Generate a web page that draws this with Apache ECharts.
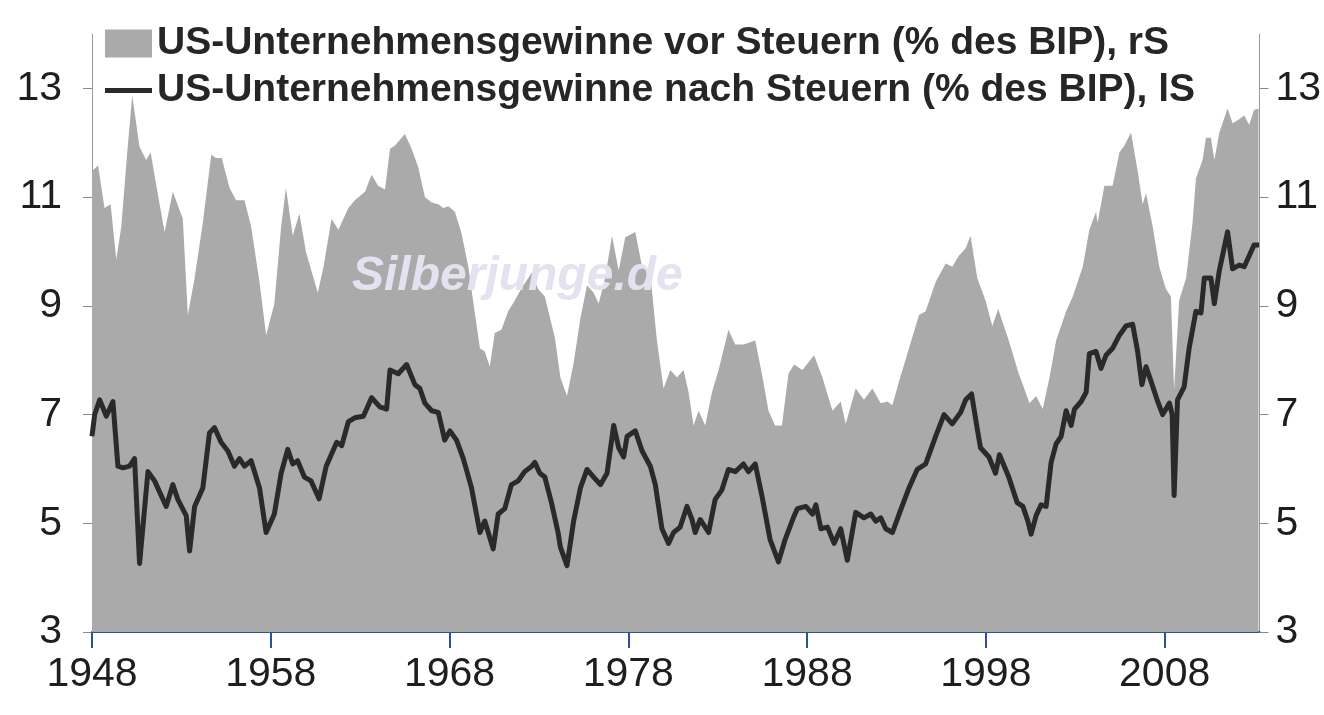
<!DOCTYPE html>
<html>
<head>
<meta charset="utf-8">
<script src="https://cdn.jsdelivr.net/npm/echarts@6/dist/echarts.min.js"></script>
<style>
  html, body { margin: 0; padding: 0; background: #fff; }
  #chart { width: 1324px; height: 715px; }
</style>
</head>
<body>
<div id="chart"></div>
<script>
// Vorsteuer-Gewinne (% des BIP), rechte Skala
const preYears = [1948.0,1948.34,1948.7,1949.04,1949.36,1949.64,1949.97,1950.25,1950.66,1951.03,1951.28,1951.6,1952.06,1952.52,1953.08,1953.36,1953.74,1954.2,1954.67,1954.94,1955.26,1955.69,1956.06,1956.53,1956.9,1957.37,1957.74,1958.2,1958.58,1958.85,1959.23,1959.6,1959.97,1960.63,1960.95,1961.4,1961.78,1962.34,1962.7,1963.27,1963.64,1964.0,1964.39,1964.67,1964.95,1965.5,1965.88,1966.25,1966.62,1967.0,1967.37,1967.65,1967.93,1968.3,1968.67,1969.05,1969.4,1969.7,1969.97,1970.25,1970.53,1970.9,1971.28,1971.65,1972.0,1972.6,1972.95,1973.33,1973.9,1974.2,1974.57,1974.94,1975.32,1975.69,1976.06,1976.34,1976.7,1977.09,1977.46,1977.83,1978.39,1978.77,1979.23,1979.6,1979.97,1980.35,1980.72,1981.09,1981.37,1981.65,1981.93,1982.3,1982.68,1983.05,1983.6,1983.98,1984.44,1985.1,1985.47,1985.84,1986.21,1986.59,1986.96,1987.27,1987.74,1988.39,1988.86,1989.42,1989.88,1990.16,1990.72,1991.18,1991.65,1992.12,1992.49,1992.77,1993.14,1993.7,1994.26,1994.63,1995.19,1995.75,1996.12,1996.49,1996.87,1997.14,1997.52,1997.98,1998.36,1998.69,1999.28,1999.84,2000.07,2000.44,2000.81,2001.18,2001.56,2001.93,2002.49,2002.86,2003.42,2003.79,2004.16,2004.25,2004.63,2005.09,2005.47,2005.75,2006.12,2006.49,2006.77,2006.96,2007.33,2007.7,2008.07,2008.35,2008.53,2008.81,2009.2,2009.56,2009.75,2010.12,2010.31,2010.59,2010.78,2011.06,2011.52,2011.8,2012.17,2012.45,2012.73,2013.0,2013.25];
const preValues = [11.48,11.58,10.80,10.87,9.85,10.46,11.82,12.87,11.92,11.68,11.82,11.21,10.36,11.10,10.60,8.83,9.51,10.53,11.78,11.72,11.72,11.17,10.94,10.94,10.46,9.44,8.46,9.04,10.46,11.17,10.29,10.70,9.99,9.24,9.72,10.60,10.40,10.80,10.94,11.10,11.41,11.21,11.14,11.89,11.95,12.16,11.89,11.55,11.00,10.90,10.87,10.80,10.83,10.73,10.33,9.72,8.90,8.22,8.16,7.88,8.50,8.56,8.90,9.10,9.31,9.61,9.31,9.17,8.40,7.68,7.34,7.95,8.77,9.38,9.24,9.04,9.51,10.29,9.65,10.26,10.36,9.72,9.58,8.36,7.48,7.82,7.68,7.82,7.41,6.80,7.07,6.80,7.41,7.82,8.56,8.29,8.29,8.36,7.75,7.07,6.80,6.80,7.75,7.92,7.82,8.09,7.68,7.07,7.24,6.83,7.48,7.27,7.48,7.21,7.24,7.17,7.61,8.22,8.83,8.90,9.44,9.78,9.72,9.92,10.06,10.29,9.51,9.10,8.63,8.94,8.36,7.75,7.55,7.21,7.34,7.10,7.68,8.36,8.90,9.17,9.72,10.40,10.73,10.53,11.21,11.21,11.82,11.95,12.19,11.48,10.87,11.07,10.46,9.72,9.31,9.17,7.45,9.10,9.51,10.53,11.34,11.68,12.09,12.09,11.68,12.19,12.63,12.36,12.43,12.50,12.33,12.60,12.63];

// Nachsteuer-Gewinne (% des BIP), linke Skala
const postYears = [1948.0,1948.15,1948.43,1948.8,1949.17,1949.45,1949.73,1950.1,1950.38,1950.66,1951.13,1951.5,1952.15,1952.52,1952.8,1953.27,1953.46,1953.74,1954.2,1954.57,1954.85,1955.22,1955.6,1955.97,1956.25,1956.53,1956.9,1957.37,1957.74,1958.2,1958.58,1958.95,1959.23,1959.5,1959.88,1960.25,1960.7,1961.1,1961.69,1961.97,1962.34,1962.7,1963.18,1963.64,1964.1,1964.48,1964.67,1965.13,1965.6,1966.06,1966.34,1966.62,1967.0,1967.37,1967.73,1968.02,1968.39,1968.77,1969.23,1969.7,1969.97,1970.44,1970.72,1971.09,1971.46,1971.84,1972.2,1972.6,1972.77,1973.05,1973.33,1973.7,1974.07,1974.2,1974.57,1974.94,1975.32,1975.69,1976.06,1976.44,1976.81,1977.18,1977.46,1977.74,1977.93,1978.39,1978.77,1979.23,1979.51,1979.88,1980.25,1980.53,1980.9,1981.28,1981.56,1981.74,1982.02,1982.49,1982.86,1983.23,1983.6,1983.98,1984.44,1984.72,1985.1,1985.47,1985.93,1986.4,1986.77,1987.23,1987.46,1987.93,1988.3,1988.49,1988.77,1989.14,1989.51,1989.88,1990.25,1990.72,1991.18,1991.56,1991.84,1992.12,1992.4,1992.77,1993.23,1993.7,1994.16,1994.63,1995.19,1995.66,1996.12,1996.59,1996.87,1997.2,1997.52,1997.7,1998.17,1998.54,1998.76,1999.28,1999.75,2000.07,2000.35,2000.53,2000.81,2001.09,2001.37,2001.65,2001.93,2002.21,2002.49,2002.77,2002.96,2003.33,2003.61,2003.79,2004.16,2004.44,2004.72,2005.09,2005.47,2005.84,2006.21,2006.49,2006.73,2006.96,2007.24,2007.61,2007.89,2008.27,2008.42,2008.53,2008.72,2009.09,2009.37,2009.75,2010.03,2010.22,2010.59,2010.78,2011.06,2011.52,2011.8,2012.17,2012.45,2012.73,2013.0,2013.28];
const postValues = [6.60,7.00,7.27,6.97,7.24,6.05,6.02,6.05,6.19,4.26,5.95,5.78,5.31,5.71,5.44,5.14,4.49,5.31,5.65,6.66,6.76,6.49,6.33,6.05,6.19,6.05,6.15,5.65,4.83,5.17,5.92,6.36,6.09,6.15,5.85,5.78,5.45,6.05,6.49,6.43,6.87,6.94,6.97,7.31,7.14,7.10,7.82,7.75,7.92,7.55,7.48,7.21,7.07,7.04,6.53,6.70,6.53,6.19,5.65,4.83,5.04,4.53,5.17,5.27,5.71,5.78,5.95,6.05,6.12,5.92,5.85,5.38,4.83,4.56,4.22,5.04,5.65,5.99,5.85,5.71,5.92,6.80,6.39,6.22,6.60,6.70,6.33,6.05,5.71,4.90,4.63,4.83,4.93,5.31,5.07,4.83,5.07,4.83,5.44,5.61,5.99,5.95,6.09,5.95,6.09,5.51,4.70,4.29,4.70,5.10,5.27,5.31,5.17,5.34,4.90,4.93,4.63,4.90,4.32,5.20,5.10,5.17,5.04,5.10,4.90,4.83,5.24,5.65,5.99,6.09,6.60,7.00,6.83,7.04,7.27,7.38,6.73,6.39,6.22,5.92,6.26,5.85,5.38,5.31,5.04,4.80,5.14,5.34,5.31,6.12,6.46,6.60,7.07,6.80,7.10,7.24,7.41,8.12,8.16,7.85,8.09,8.22,8.46,8.63,8.66,8.16,7.55,7.88,7.61,7.24,7.00,7.21,7.00,5.51,7.27,7.51,8.22,8.90,8.87,9.51,9.51,9.04,9.65,10.36,9.68,9.75,9.72,9.92,10.12,10.12];

const yearTicks = [1948, 1958, 1968, 1978, 1988, 1998, 2008];
const valueTicks = [3, 5, 7, 9, 11, 13];
const namePre = 'US-Unternehmensgewinne vor Steuern (% des BIP), rS';
const namePost = 'US-Unternehmensgewinne nach Steuern (% des BIP), lS';

const tickFont = "'Liberation Sans', Arial, sans-serif";
const boldFont = "'Liberation Sans', Arial, sans-serif";

const chart = echarts.init(document.getElementById('chart'));

function yAxisCfg(pos) {
  return {
    type: 'value',
    position: pos,
    min: 3,
    max: 14,
    splitLine: { show: false },
    axisLine: { show: true, lineStyle: { color: '#9a9a9a', width: 1 } },
    axisTick: { show: true, length: 9, customValues: valueTicks, lineStyle: { color: '#8a8a8a', width: 1 } },
    axisLabel: { customValues: valueTicks, color: '#1e1e1e', fontSize: 41, fontFamily: tickFont, margin: pos === 'left' ? 30 : 16 }
  };
}

const legendText = { fontSize: 39, fontWeight: 'bold', fontFamily: boldFont, color: '#262626' };

const option = {
  animation: false,
  backgroundColor: '#ffffff',
  grid: { left: 92, right: 63, top: 34, bottom: 83 },
  legend: [
    {
      data: [{ name: namePre, icon: 'rect' }],
      left: 105, top: 24, padding: 0,
      itemWidth: 47, itemHeight: 28,
      selectedMode: false,
      textStyle: legendText
    },
    {
      data: [{ name: namePost, icon: 'rect' }],
      left: 105, top: 71, padding: 0,
      itemWidth: 47, itemHeight: 5,
      selectedMode: false,
      textStyle: legendText
    }
  ],
  xAxis: {
    type: 'value',
    min: 1948,
    max: 2013.3,
    splitLine: { show: false },
    axisLine: { show: true, lineStyle: { color: '#2f4f9a', width: 2 } },
    axisTick: { show: true, length: 16, customValues: yearTicks, lineStyle: { color: '#2f4f9a', width: 2 } },
    axisLabel: {
      customValues: yearTicks,
      formatter: (v) => String(v),
      color: '#1e1e1e', fontSize: 41, fontFamily: tickFont, margin: 22
    }
  },
  yAxis: [yAxisCfg('left'), yAxisCfg('right')],
  graphic: [
    {
      type: 'text',
      left: 352, top: 253, z: 100,
      style: { text: 'Silberjunge.de', font: "italic bold 48px 'Liberation Sans', Arial, sans-serif", fill: '#e2e2f0' }
    }
  ],
  series: [
    {
      name: namePre,
      type: 'line',
      yAxisIndex: 1,
      symbol: 'none',
      color: '#aaaaaa',
      lineStyle: { width: 0 },
      areaStyle: { color: '#aaaaaa', opacity: 1 },
      data: preYears.map((y, i) => [y, preValues[i]]),
      z: 1
    },
    {
      name: namePost,
      type: 'line',
      yAxisIndex: 0,
      symbol: 'none',
      color: '#2a2a2a',
      lineStyle: { width: 5, color: '#2a2a2a', join: 'round' },
      data: postYears.map((y, i) => [y, postValues[i]]),
      z: 3
    }
  ]
};

chart.setOption(option);
</script>
</body>
</html>
